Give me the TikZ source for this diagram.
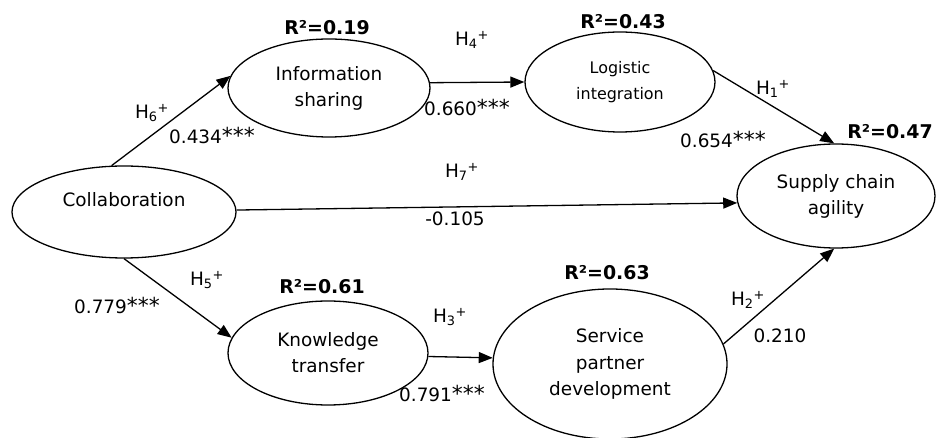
\documentclass[tikz,border=0pt]{standalone}
\usepackage{fontspec}
\setmainfont{DejaVu Sans}
\usetikzlibrary{shapes.geometric,arrows.meta}
\tikzset{
  latent/.style={ellipse,draw,line width=1.3bp,inner sep=0pt,align=center,font=\fontsize{18.5}{26}\selectfont},
  rsq/.style={font=\bfseries\fontsize{19}{20}\selectfont},
  lbl/.style={font=\fontsize{18.5}{20}\selectfont,inner sep=0pt},
  path/.style={line width=1.3bp,-{Triangle[length=14bp,width=11bp]}}
}
\newcommand{\hyp}[1]{H\textsubscript{#1}\textsuperscript{+}}
\newcommand{\stars}{{\fontsize{22}{20}\selectfont ***}}
\begin{document}
\begin{tikzpicture}[x=1bp,y=-1bp]
\useasboundingbox (0,0) rectangle (939,438);
% latent variables
\node[latent,minimum width=224bp,minimum height=92bp] (collab) at (124,212) {};
\node[font=\fontsize{18.5}{20}\selectfont] (collabtxt) at (124,200) {Collaboration};
\node[latent,minimum width=202bp,minimum height=98bp] (info) at (329,88) {Information\\sharing};
\node[latent,minimum width=190bp,minimum height=100bp,font=\fontsize{16}{26}\selectfont] (logi) at (620,82) {Logistic\\integration};
\node[latent,minimum width=198bp,minimum height=104bp] (sca) at (836,196) {Supply chain\\agility};
\node[latent,minimum width=200bp,minimum height=104bp] (know) at (328,353) {Knowledge\\transfer};
\node[latent,minimum width=234bp,minimum height=150bp,font=\fontsize{18.5}{27}\selectfont] (serv) at (610,364) {Service\\partner\\development};
% R squared
\node[rsq] (r1) at (327,28) {R²=0.19};
\node[rsq] (r2) at (623,22) {R²=0.43};
\node[rsq] (r3) at (890,132) {R²=0.47};
\node[rsq] (r4) at (322,287) {R²=0.61};
\node[rsq] (r5) at (607,273) {R²=0.63};
% paths
\draw[path] (collab.105) -- (info.173);
\draw[path] (info.3) -- (logi.180);
\draw[path] (logi.7) -- (sca.92);
\draw[path] (collab.1.5) -- (sca.184);
\draw[path] (collab.270) -- (know.171);
\draw[path] (know.-2) -- (serv.177);
\draw[path] (serv.10) -- (sca.268);
% path labels
\node[lbl] (h6) at (152,113) {\hyp{6}};
\node[lbl] (c6) at (212,136) {0.434\stars};
\node[lbl] (h4) at (472,40) {\hyp{4}};
\node[lbl] (c4) at (467,108) {0.660\stars};
\node[lbl] (h1) at (773,89) {\hyp{1}};
\node[lbl] (c1) at (723,140) {0.654\stars};
\node[lbl] (h7) at (462,172) {\hyp{7}};
\node[lbl] (c7) at (455,219) {-0.105};
\node[lbl] (h5) at (207,280) {\hyp{5}};
\node[lbl] (c5) at (117,305) {0.779\stars};
\node[lbl] (h3) at (450,317) {\hyp{3}};
\node[lbl] (c3) at (442,393) {0.791\stars};
\node[lbl] (h2) at (748,300) {\hyp{2}};
\node[lbl] (c2) at (780,336) {0.210};
\end{tikzpicture}
\end{document}
